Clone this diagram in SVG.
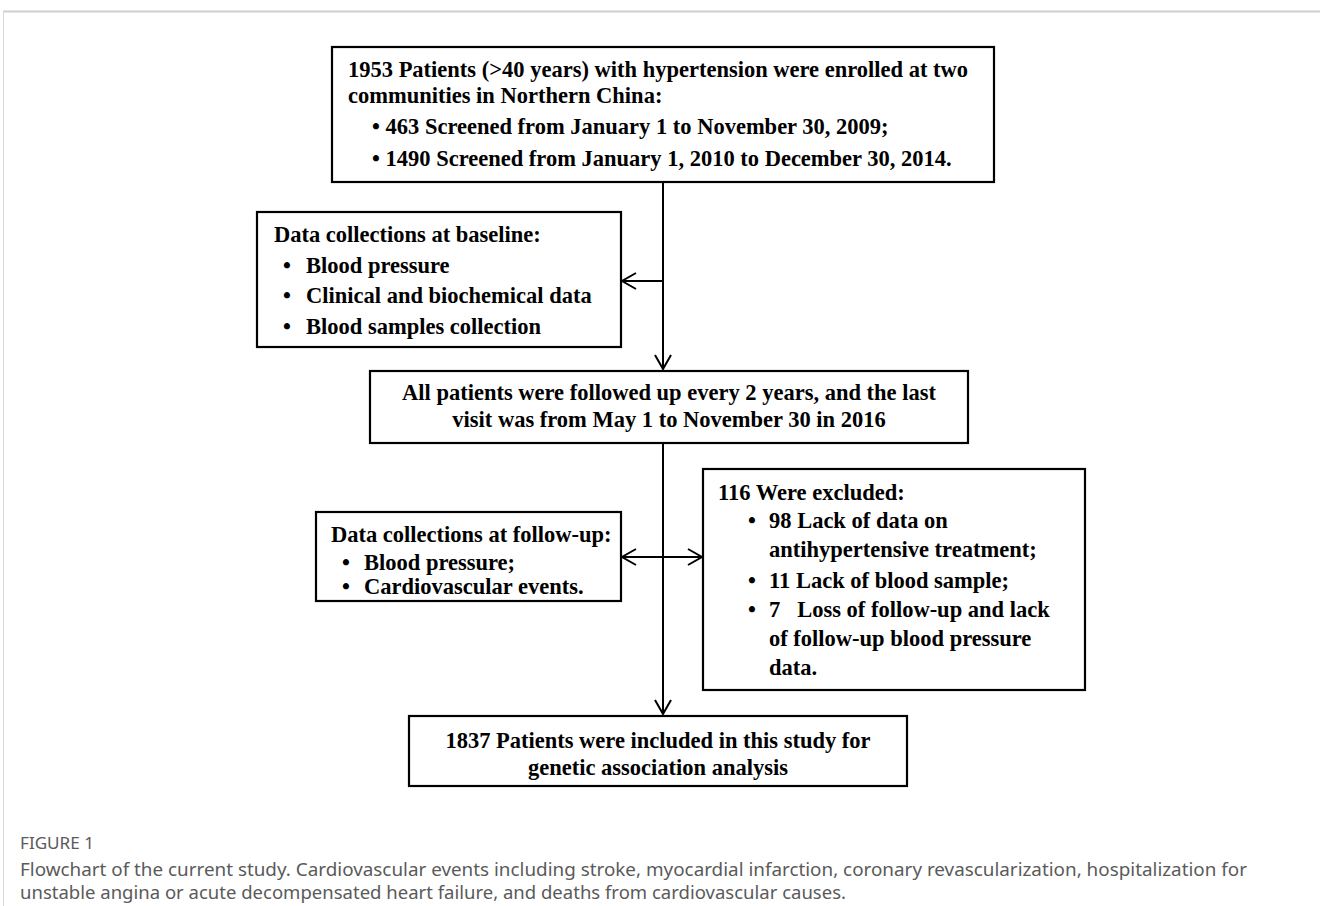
<svg xmlns="http://www.w3.org/2000/svg" width="1320" height="906" viewBox="0 0 1320 906">
<style>
.box{fill:#fff;stroke:#000;stroke-width:2.2}
.t{font-family:"Liberation Serif","Times New Roman",serif;font-weight:bold;font-size:22.5px;fill:#000}
.c{text-anchor:middle}
.conn{stroke:#000;stroke-width:2;fill:none}
.cap{font-family:"Noto Sans","Open Sans",sans-serif;fill:#5a5a5a}
</style>
<defs>
<marker id="ah" viewBox="-16 -10 18 20" refX="0" refY="0" markerWidth="18" markerHeight="20" markerUnits="userSpaceOnUse" orient="auto">
<path d="M-14,-8 L0,0 L-14,8" fill="none" stroke="#000" stroke-width="2"/>
</marker>
</defs>
<rect width="1320" height="906" fill="#fff"/>
<line x1="3" y1="11.5" x2="1320" y2="11.5" stroke="#cfcfcf" stroke-width="2"/>
<line x1="3.5" y1="11" x2="3.5" y2="906" stroke="#d8d8d8" stroke-width="1"/>

<g id="connectors">
<line class="conn" x1="663" y1="182" x2="663" y2="369" marker-end="url(#ah)"/>
<line class="conn" x1="663" y1="281" x2="622" y2="281" marker-end="url(#ah)"/>
<line class="conn" x1="663" y1="443" x2="663" y2="714" marker-end="url(#ah)"/>
<line class="conn" x1="663" y1="557" x2="622" y2="557" marker-end="url(#ah)"/>
<line class="conn" x1="663" y1="557" x2="702" y2="557" marker-end="url(#ah)"/>
</g>

<g id="enrolled">
<rect class="box" x="332" y="47" width="662" height="135"/>
<text class="t" x="348" y="77">1953 Patients (&gt;40 years) with hypertension were enrolled at two</text>
<text class="t" x="348" y="103">communities in Northern China:</text>
<text class="t" x="372" y="134">• 463 Screened from January 1 to November 30, 2009;</text>
<text class="t" x="372" y="166">• 1490 Screened from January 1, 2010 to December 30, 2014.</text>
</g>

<g id="baseline">
<rect class="box" x="257" y="212" width="364" height="135"/>
<text class="t" x="274" y="242">Data collections at baseline:</text>
<text class="t" x="283" y="273">•</text><text class="t" x="306" y="273">Blood pressure</text>
<text class="t" x="283" y="303">•</text><text class="t" x="306" y="303">Clinical and biochemical data</text>
<text class="t" x="283" y="334">•</text><text class="t" x="306" y="334">Blood samples collection</text>
</g>

<g id="followup">
<rect class="box" x="370" y="371" width="598" height="72"/>
<text class="t c" x="669" y="400">All patients were followed up every 2 years, and the last</text>
<text class="t c" x="669" y="427">visit was from May 1 to November 30 in 2016</text>
</g>

<g id="followup-data">
<rect class="box" x="316" y="512" width="305" height="89"/>
<text class="t" x="331" y="542">Data collections at follow-up:</text>
<text class="t" x="342" y="570">•</text><text class="t" x="364" y="570">Blood pressure;</text>
<text class="t" x="342" y="594">•</text><text class="t" x="364" y="594">Cardiovascular events.</text>
</g>

<g id="excluded">
<rect class="box" x="703" y="469" width="382" height="221"/>
<text class="t" x="718" y="500">116 Were excluded:</text>
<text class="t" x="748" y="528">•</text><text class="t" x="769" y="528">98 Lack of data on</text>
<text class="t" x="769" y="557">antihypertensive treatment;</text>
<text class="t" x="748" y="588">•</text><text class="t" x="769" y="588">11 Lack of blood sample;</text>
<text class="t" x="748" y="617">•</text><text class="t" x="769" y="617" xml:space="preserve">7   Loss of follow-up and lack</text>
<text class="t" x="769" y="646">of follow-up blood pressure</text>
<text class="t" x="769" y="675">data.</text>
</g>

<g id="included">
<rect class="box" x="409" y="716" width="498" height="70"/>
<text class="t c" x="658" y="748">1837 Patients were included in this study for</text>
<text class="t c" x="658" y="775">genetic association analysis</text>
</g>

<g id="caption">
<text class="cap" x="20" y="849" font-size="17" fill="#4a4a4a" textLength="74" lengthAdjust="spacingAndGlyphs">FIGURE 1</text>
<text class="cap" x="20" y="876" font-size="18" textLength="1227" lengthAdjust="spacingAndGlyphs">Flowchart of the current study. Cardiovascular events including stroke, myocardial infarction, coronary revascularization, hospitalization for</text>
<text class="cap" x="20" y="899" font-size="18" textLength="826" lengthAdjust="spacingAndGlyphs">unstable angina or acute decompensated heart failure, and deaths from cardiovascular causes.</text>
</g>
</svg>
